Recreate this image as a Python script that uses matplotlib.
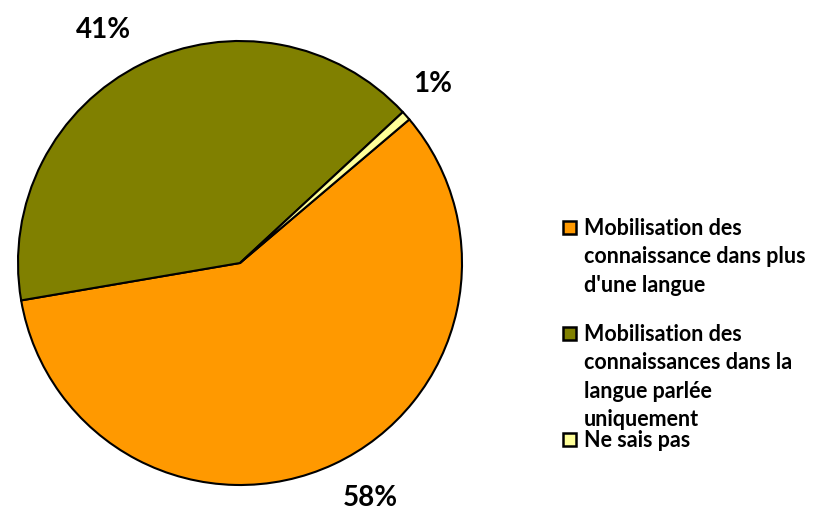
import matplotlib.pyplot as plt
from matplotlib.patches import Rectangle

# data
categories = ["Mobilisation des\nconnaissance dans plus\nd'une langue",
              "Mobilisation des\nconnaissances dans la\nlangue parlée\nuniquement",
              "Ne sais pas"]
shares = [58.5, 40.8, 0.7]
pct_labels = ["58%", "41%", "1%"]
colors = ["#FF9900", "#808000", "#FFFF99"]

plt.rcParams['font.family'] = ['Lato', 'DejaVu Sans']

fig = plt.figure(figsize=(8.16, 5.13), dpi=100)
ax = fig.add_axes([18/816, 28/513, 444/816, 444/513])

wedges, _ = ax.pie(shares, colors=colors, startangle=40.3, counterclock=False,
                   radius=1.0, wedgeprops=dict(edgecolor='black', linewidth=1.5))
ax.set_xlim(-1.0, 1.0)
ax.set_ylim(-1.0, 1.0)
ax.set_aspect('equal')
ax.axis('off')

# percentage labels
label_pos = [(0.586, -1.06), (-0.617, 1.05), (0.87, 0.805)]
for (x, y), t in zip(label_pos, pct_labels):
    ax.text(x, y, t, ha='center', va='center', fontsize=20, fontweight='bold',
            clip_on=False)

# legend drawn by hand, one text per line
W, H = 816, 513
baselines = [235, 341, 447]
line_step = 28.4
for base, name, c in zip(baselines, categories, colors):
    fig.patches.append(Rectangle((563/W, (H - base + 1)/H), 13/W, 13/H,
                                 transform=fig.transFigure, facecolor=c,
                                 edgecolor='black', linewidth=1.8))
    for i, line in enumerate(name.split("\n")):
        fig.text(584/W, (H - base - i*line_step)/H, line, ha='left',
                 va='baseline', fontsize=15.5, fontweight='bold')

fig.savefig('out.png', dpi=100)
